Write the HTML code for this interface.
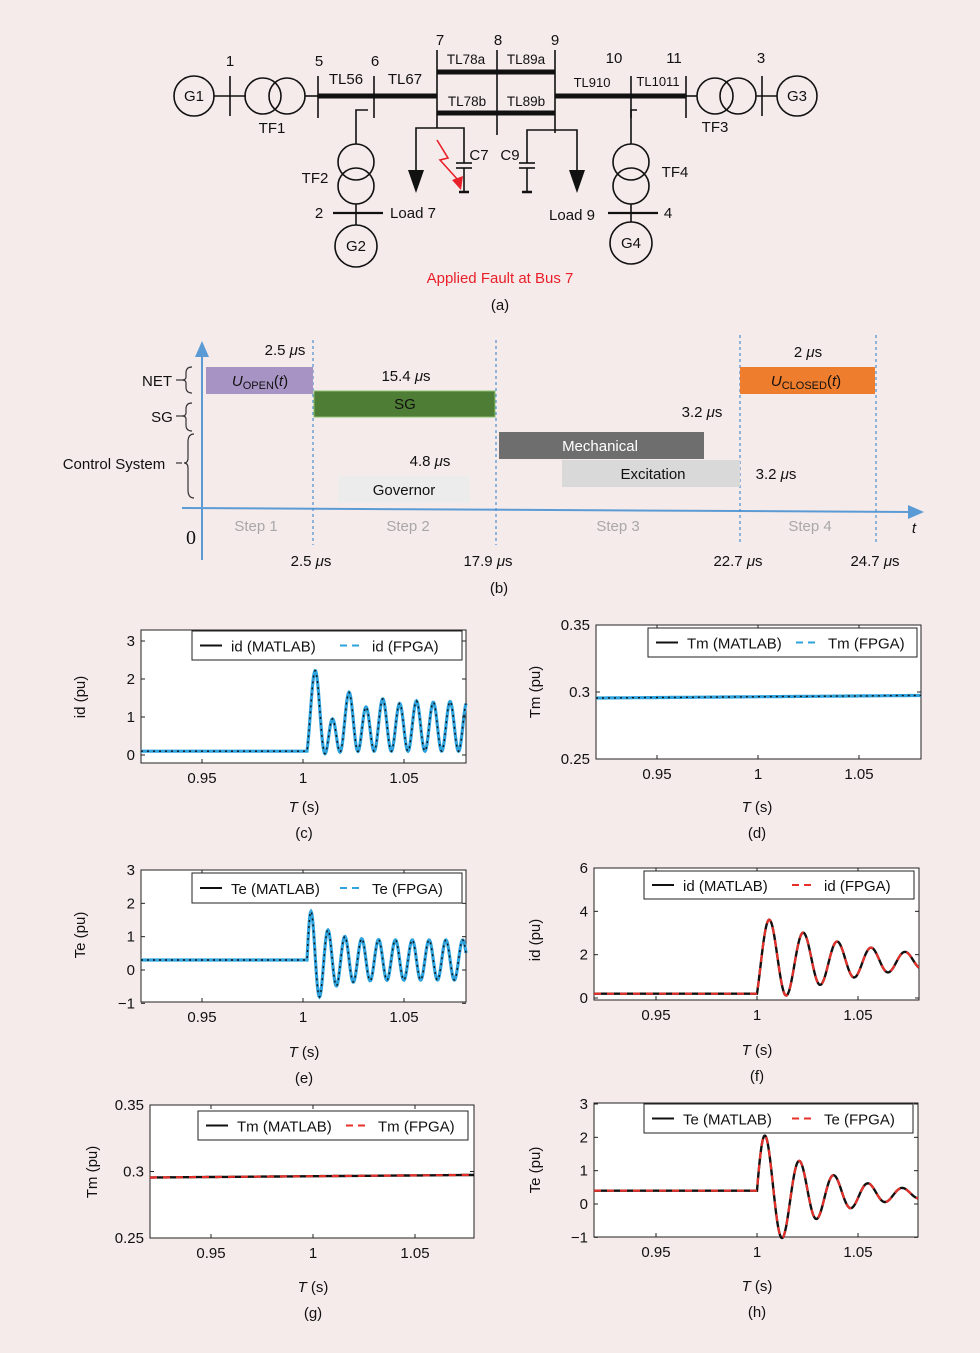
<!DOCTYPE html>
<html><head><meta charset="utf-8">
<style>
html,body{margin:0;padding:0;background:#f6ebeb;}
svg{display:block;font-family:"Liberation Sans",sans-serif;}
</style></head>
<body>
<svg id="s" width="980" height="1353" viewBox="0 0 980 1353" xmlns="http://www.w3.org/2000/svg">
<rect width="980" height="1353" fill="#f6ebeb"/>
<g stroke="#111" fill="none" stroke-width="1.6">
  <circle cx="194" cy="96" r="20"/>
  <line x1="214" y1="96" x2="246" y2="96"/>
  <line x1="230" y1="76" x2="230" y2="116"/>
  <circle cx="263" cy="96" r="18"/><circle cx="287" cy="96" r="18"/>
  <line x1="305" y1="96" x2="318" y2="96"/>
  <line x1="318" y1="76" x2="318" y2="118"/>
  <line x1="374" y1="76" x2="374" y2="118"/>
  <line x1="318" y1="96" x2="437" y2="96" stroke-width="5"/>
  <polyline points="368,110 356,110 356,144"/>
  <circle cx="356" cy="162" r="18"/><circle cx="356" cy="186" r="18"/>
  <line x1="356" y1="204" x2="356" y2="225"/>
  <line x1="333" y1="213" x2="383" y2="213" stroke-width="2.2"/>
  <circle cx="356" cy="246" r="21"/>
  <line x1="437" y1="50" x2="437" y2="128"/>
  <line x1="497" y1="50" x2="497" y2="135"/>
  <line x1="555" y1="50" x2="555" y2="133"/>
  <line x1="437" y1="72" x2="555" y2="72" stroke-width="5"/>
  <line x1="437" y1="113" x2="555" y2="113" stroke-width="5"/>
  <polyline points="416,172 416,128 464,128 464,163"/>
  <line x1="456" y1="163" x2="472" y2="163"/><line x1="456" y1="168" x2="472" y2="168"/>
  <line x1="464" y1="168" x2="464" y2="191"/>
  <line x1="459" y1="192" x2="469" y2="192" stroke-width="2.5"/>
  <polyline points="577,172 577,130 527,130 527,163"/>
  <line x1="519" y1="163" x2="535" y2="163"/><line x1="519" y1="168" x2="535" y2="168"/>
  <line x1="527" y1="168" x2="527" y2="191"/>
  <line x1="522" y1="192" x2="532" y2="192" stroke-width="2.5"/>
  <line x1="555" y1="96" x2="686" y2="96" stroke-width="5"/>
  <line x1="631" y1="76" x2="631" y2="118"/>
  <line x1="686" y1="76" x2="686" y2="118"/>
  <polyline points="637,110 631,110 631,144"/>
  <circle cx="631" cy="162" r="18"/><circle cx="631" cy="186" r="18"/>
  <line x1="631" y1="204" x2="631" y2="222"/>
  <line x1="608" y1="213" x2="658" y2="213" stroke-width="2.2"/>
  <circle cx="631" cy="243" r="21"/>
  <line x1="686" y1="96" x2="697" y2="96"/>
  <circle cx="715" cy="96" r="18"/><circle cx="738" cy="96" r="18"/>
  <line x1="756" y1="96" x2="777" y2="96"/>
  <line x1="762" y1="76" x2="762" y2="116"/>
  <circle cx="797" cy="96" r="20"/>
</g>
<polygon points="408,170 424,170 416,193" fill="#111"/>
<polygon points="569,170 585,170 577,193" fill="#111"/>
<polyline points="437,140 448,158 440,160 458,180" stroke="#e8202a" stroke-width="1.6" fill="none"/>
<polygon points="452,180 463,176 461,190" fill="#e8202a"/>
<g font-size="15" fill="#111" text-anchor="middle">
<text x="194" y="101">G1</text><text x="797" y="101">G3</text>
<text x="356" y="251">G2</text><text x="631" y="248">G4</text>
<text x="230" y="66">1</text><text x="319" y="66">5</text><text x="375" y="66">6</text>
<text x="440" y="45">7</text><text x="498" y="45">8</text><text x="555" y="45">9</text>
<text x="614" y="63">10</text><text x="674" y="63">11</text><text x="761" y="63">3</text>
<text x="272" y="133">TF1</text><text x="715" y="132">TF3</text>
<text x="315" y="183">TF2</text><text x="675" y="177">TF4</text>
<text x="346" y="84">TL56</text><text x="405" y="84">TL67</text>
<text x="466" y="64" font-size="13.5">TL78a</text><text x="526" y="64" font-size="13.5">TL89a</text>
<text x="467" y="106" font-size="13.5">TL78b</text><text x="526" y="106" font-size="13.5">TL89b</text>
<text x="592" y="87" font-size="13">TL910</text><text x="658" y="86" font-size="13">TL1011</text>
<text x="479" y="160">C7</text><text x="510" y="160">C9</text>
<text x="319" y="218">2</text><text x="413" y="218">Load 7</text>
<text x="572" y="220">Load 9</text><text x="668" y="218">4</text>
<text x="500" y="283" fill="#e8202a">Applied Fault at Bus 7</text>
<text x="500" y="310">(a)</text>
</g>

<g fill="none">
<line x1="202" y1="560" x2="202" y2="352" stroke="#5b9bd5" stroke-width="2"/>
<polygon points="202,341 195,357 209,357" fill="#5b9bd5"/>
<line x1="182" y1="508" x2="912" y2="512" stroke="#5b9bd5" stroke-width="2"/>
<polygon points="924,512 908,505 908,519" fill="#5b9bd5"/>
<g stroke="#4a90d0" stroke-width="1.2" stroke-dasharray="3,3">
<line x1="313" y1="340" x2="313" y2="545"/><line x1="496" y1="340" x2="496" y2="545"/>
<line x1="740" y1="335" x2="740" y2="545"/><line x1="876" y1="335" x2="876" y2="545"/>
</g>
<g stroke="#333" stroke-width="1.2">
<path d="M192,367 Q186,367 186,373 L186,377 Q186,380 182,380 Q186,380 186,383 L186,387 Q186,393 192,393"/>
<line x1="176" y1="380" x2="182" y2="380"/>
<path d="M192,403 Q186,403 186,409 L186,413 Q186,416 182,416 Q186,416 186,419 L186,425 Q186,431 192,431"/>
<line x1="176" y1="416" x2="182" y2="416"/>
<path d="M194,434 Q188,434 188,442 L188,458 Q188,463 184,463 Q188,463 188,468 L188,490 Q188,498 194,498"/>
<line x1="176" y1="463" x2="182" y2="463"/>
</g>
</g>
<rect x="206" y="367" width="107" height="27" fill="#a894c4"/>
<rect x="314" y="391" width="181" height="26" fill="#4e7d35" stroke="#8cc070" stroke-width="1"/>
<rect x="499" y="432" width="205" height="27" fill="#6e6e6e"/>
<rect x="562" y="460" width="178" height="27" fill="#d9d9d9"/>
<rect x="338" y="476" width="132" height="27" fill="#ececec"/>
<rect x="740" y="367" width="135" height="27" fill="#ef7d2e"/>
<g font-size="15" fill="#111" text-anchor="middle">
<text x="260" y="386"><tspan font-style="italic">U</tspan><tspan font-size="11" dy="3">OPEN</tspan><tspan dy="-3">(</tspan><tspan font-style="italic">t</tspan>)</text>
<text x="806" y="386"><tspan font-style="italic">U</tspan><tspan font-size="11" dy="3">CLOSED</tspan><tspan dy="-3">(</tspan><tspan font-style="italic">t</tspan>)</text>
<text x="405" y="409">SG</text>
<text x="600" y="451" fill="#fff">Mechanical</text>
<text x="653" y="479">Excitation</text>
<text x="404" y="495">Governor</text>
<text x="285" y="355">2.5 <tspan font-style="italic">μ</tspan>s</text>
<text x="406" y="381">15.4 <tspan font-style="italic">μ</tspan>s</text>
<text x="808" y="357">2 <tspan font-style="italic">μ</tspan>s</text>
<text x="702" y="417">3.2 <tspan font-style="italic">μ</tspan>s</text>
<text x="430" y="466">4.8 <tspan font-style="italic">μ</tspan>s</text>
<text x="776" y="479">3.2 <tspan font-style="italic">μ</tspan>s</text>
<text x="311" y="566">2.5 <tspan font-style="italic">μ</tspan>s</text>
<text x="488" y="566">17.9 <tspan font-style="italic">μ</tspan>s</text>
<text x="738" y="566">22.7 <tspan font-style="italic">μ</tspan>s</text>
<text x="875" y="566">24.7 <tspan font-style="italic">μ</tspan>s</text>
<text x="157" y="386">NET</text><text x="162" y="422">SG</text>
<text x="114" y="469">Control System</text>
<g fill="#a8a8a8"><text x="256" y="531">Step 1</text><text x="408" y="531">Step 2</text><text x="618" y="531">Step 3</text><text x="810" y="531">Step 4</text></g>
<text x="914" y="533" font-style="italic">t</text>
<text x="191" y="544" font-family="Liberation Serif,serif" font-size="20">0</text>
<text x="499" y="593">(b)</text>
</g>
<g id="plots"></g>
</svg>
<script>
var NS="http://www.w3.org/2000/svg",P=document.getElementById("plots");
function el(t,a,txt){var e=document.createElementNS(NS,t);for(var k in a)e.setAttribute(k,a[k]);if(txt!==undefined)e.textContent=txt;P.appendChild(e);return e;}
function plot(o){
 var X0=o.x0,X1=o.x1,Y0=o.y0,Y1=o.y1;
 var xs=function(t){return o.x1f+(t-1)*(o.x1f-o.x095)/0.05;};
 var ys=function(v){return o.ya+(v-o.va)*(o.yb-o.ya)/(o.vb-o.va);};
 el("rect",{x:X0,y:Y0,width:X1-X0,height:Y1-Y0,fill:"#fff",stroke:"#222","stroke-width":1});
 var d="";for(var px=X0;px<=X1;px+=0.5){var t=1+(px-o.x1f)*0.05/(o.x1f-o.x095);var v=o.f(t);var py=ys(v);d+=(d?"L":"M")+px.toFixed(1)+","+py.toFixed(1);}
 if(o.red){el("path",{d:d,fill:"none",stroke:"#111","stroke-width":2.4});el("path",{d:d,fill:"none",stroke:"#e8302a","stroke-width":2.2,"stroke-dasharray":"7,6"});}
 else{el("path",{d:d,fill:"none",stroke:"#2ea3dd","stroke-width":3.2});el("path",{d:d,fill:"none",stroke:"#111","stroke-width":1.4,"stroke-dasharray":"2,4"});}
 o.xt.forEach(function(t){var x=xs(t);el("line",{x1:x,y1:Y1,x2:x,y2:Y1-4,stroke:"#222"});el("line",{x1:x,y1:Y0,x2:x,y2:Y0+4,stroke:"#222"});el("text",{x:x,y:Y1+20,"font-size":15,"text-anchor":"middle",fill:"#111"},String(t));});
 o.yt.forEach(function(v){var y=ys(v);el("line",{x1:X0,y1:y,x2:X0+4,y2:y,stroke:"#222"});el("line",{x1:X1,y1:y,x2:X1-4,y2:y,stroke:"#222"});el("text",{x:X0-6,y:y+5,"font-size":15,"text-anchor":"end",fill:"#111"},(v<0?"\u2212"+(-v):String(v)));});
 var L=o.leg;el("rect",{x:L[0],y:L[1],width:L[2]-L[0],height:L[3]-L[1],fill:"#fff",stroke:"#222","stroke-width":1});
 var cy=(L[1]+L[3])/2;el("line",{x1:L[0]+8,y1:cy,x2:L[0]+30,y2:cy,stroke:"#111","stroke-width":2});
 el("text",{x:L[0]+39,y:cy+6,"font-size":15,fill:"#111"},o.n+" (MATLAB)");
 el("line",{x1:L[0]+148,y1:cy,x2:L[0]+170,y2:cy,stroke:o.red?"#e8302a":"#2ea3dd","stroke-width":2,"stroke-dasharray":"7,5"});
 el("text",{x:L[0]+180,y:cy+6,"font-size":15,fill:"#111"},o.n+" (FPGA)");
 el("text",{x:0,y:0,"font-size":15,"text-anchor":"middle",fill:"#111",transform:"translate("+o.yl[0]+","+o.yl[1]+") rotate(-90)"},o.n+" (pu)");
 var xl=el("text",{x:o.xl[0],y:o.xl[1],"font-size":15,"text-anchor":"middle",fill:"#111"});
 var ti=document.createElementNS(NS,"tspan");ti.setAttribute("font-style","italic");ti.textContent="T";xl.appendChild(ti);xl.appendChild(document.createTextNode(" (s)"));
 el("text",{x:o.xl[0],y:o.xl[1]+26,"font-size":15,"text-anchor":"middle",fill:"#111"},o.cap);
}
var PI=Math.PI;
function idc(t){var u=t-1.002;if(u<0)return 0.1;var w=2*PI*120;return 0.75-0.65*Math.cos(w*u)+1.1*Math.exp(-u/0.014)*Math.sin(w/2*u);}
function tec(t){var u=t-1.002;if(u<0)return 0.3;var w=2*PI*120;return 0.3+1.1*Math.exp(-u/0.008)*Math.sin(w*u)+0.6*Math.sin(w*u);}
function tm(t){return 0.2955+(t-0.92)*0.012;}
function idf(t){var u=t-1.0;if(u<0)return 0.2;var w=2*PI/0.0168;return 1.7+Math.exp(-u/0.045)*(-1.5*Math.cos(w*u)+1.6*Math.sin(w*u));}
function teh(t){var u=t-1.0;if(u<0)return 0.4;var w=2*PI/0.017;return 0.3+Math.exp(-u/0.03)*(0.1*Math.cos(w*u)+2.0*Math.sin(w*u));}
plot({x0:141,x1:466,y0:630,y1:763,x095:202,x1f:303,ya:755,va:0,yb:641,vb:3,f:idc,xt:[0.95,1,1.05],yt:[0,1,2,3],leg:[192,631,462,660],n:"id",yl:[85,697],xl:[304,812],cap:"(c)"});
plot({x0:596,x1:921,y0:625,y1:759,x095:657,x1f:758,ya:759,va:0.25,yb:625,vb:0.35,f:tm,xt:[0.95,1,1.05],yt:[0.25,0.3,0.35],leg:[648,628,917,657],n:"Tm",yl:[540,692],xl:[757,812],cap:"(d)"});
plot({x0:141,x1:466,y0:870,y1:1002,x095:202,x1f:303,ya:970,va:0,yb:870,vb:3,f:tec,xt:[0.95,1,1.05],yt:[-1,0,1,2,3],leg:[192,873,462,903],n:"Te",yl:[85,935],xl:[304,1057],cap:"(e)"});
plot({x0:594,x1:919,y0:868,y1:1000,x095:656,x1f:757,ya:998,va:0,yb:868,vb:6,f:idf,xt:[0.95,1,1.05],yt:[0,2,4,6],leg:[644,871,914,899],n:"id",yl:[540,940],xl:[757,1055],cap:"(f)",red:1});
plot({x0:150,x1:474,y0:1105,y1:1238,x095:211,x1f:313,ya:1238,va:0.25,yb:1105,vb:0.35,f:tm,xt:[0.95,1,1.05],yt:[0.25,0.3,0.35],leg:[198,1111,468,1140],n:"Tm",yl:[97,1172],xl:[313,1292],cap:"(g)",red:1});
plot({x0:594,x1:918,y0:1103,y1:1237,x095:656,x1f:757,ya:1204,va:0,yb:1104,vb:3,f:teh,xt:[0.95,1,1.05],yt:[-1,0,1,2,3],leg:[644,1104,913,1133],n:"Te",yl:[540,1170],xl:[757,1291],cap:"(h)",red:1});
</script>
</body></html>
